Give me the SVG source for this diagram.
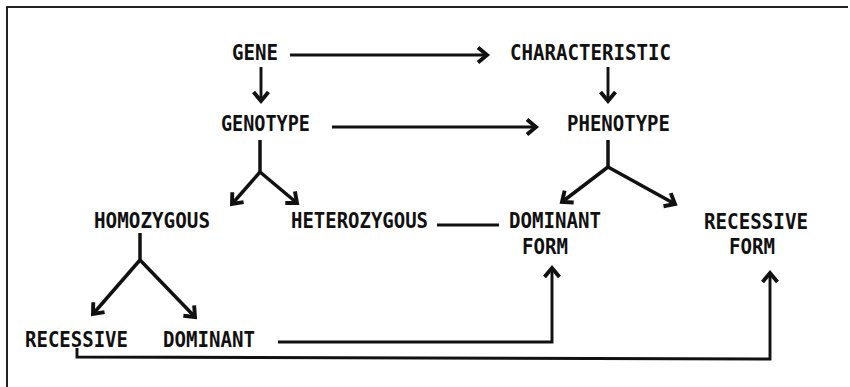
<svg xmlns="http://www.w3.org/2000/svg" width="850" height="387" viewBox="0 0 850 387">
  <defs>
    <style>
      .lbl { font-family: "DejaVu Sans Mono", "Liberation Mono", monospace; font-weight: bold; font-size: 20.5px; fill: #111; }
      .ln { fill: none; stroke: #111; stroke-width: 2.9; stroke-linecap: butt; stroke-linejoin: miter; }
      .br { fill: none; stroke: #111; stroke-width: 3.5; stroke-linejoin: miter; }
      .frame { fill: none; stroke: #222; stroke-width: 2; }
    </style>
    <marker id="chev" markerUnits="userSpaceOnUse" markerWidth="24" markerHeight="24" viewBox="-14 -12 18 24" refX="0" refY="0" orient="auto">
      <path d="M-9,-7.5 L0,0 L-9,7.5" fill="none" stroke="#111" stroke-width="3.9" stroke-linejoin="miter"/>
    </marker>
  </defs>

  <rect width="850" height="387" fill="#fff"/>

  <!-- open frame: top and left edges -->
  <path class="frame" d="M7,387 L7,7 L848,7"/>

  <g id="gene"><text class="lbl" x="232" y="60" textLength="46" lengthAdjust="spacingAndGlyphs">GENE</text></g>
  <g id="characteristic"><text class="lbl" x="510" y="60" textLength="161" lengthAdjust="spacingAndGlyphs">CHARACTERISTIC</text></g>
  <g id="genotype"><text class="lbl" x="221" y="131" textLength="89" lengthAdjust="spacingAndGlyphs">GENOTYPE</text></g>
  <g id="phenotype"><text class="lbl" x="567" y="131" textLength="103" lengthAdjust="spacingAndGlyphs">PHENOTYPE</text></g>
  <g id="homozygous"><text class="lbl" x="94" y="228" textLength="116" lengthAdjust="spacingAndGlyphs">HOMOZYGOUS</text></g>
  <g id="heterozygous"><text class="lbl" x="291" y="228" textLength="137" lengthAdjust="spacingAndGlyphs">HETEROZYGOUS</text></g>
  <g id="dominant-form">
    <text class="lbl" x="509" y="228" textLength="92" lengthAdjust="spacingAndGlyphs">DOMINANT</text>
    <text class="lbl" x="522" y="254" textLength="46" lengthAdjust="spacingAndGlyphs">FORM</text>
  </g>
  <g id="recessive-form">
    <text class="lbl" x="704" y="229" textLength="104" lengthAdjust="spacingAndGlyphs">RECESSIVE</text>
    <text class="lbl" x="729" y="254" textLength="46" lengthAdjust="spacingAndGlyphs">FORM</text>
  </g>
  <g id="recessive"><text class="lbl" x="25" y="347" textLength="103" lengthAdjust="spacingAndGlyphs">RECESSIVE</text></g>
  <g id="dominant"><text class="lbl" x="163" y="347" textLength="92" lengthAdjust="spacingAndGlyphs">DOMINANT</text></g>

  <g id="connectors">
    <!-- horizontal links -->
    <path class="ln" d="M290,55 L487,55" marker-end="url(#chev)"/>
    <path class="ln" d="M332,127 L536,127" marker-end="url(#chev)"/>
    <path class="ln" d="M437,225 L499,225"/>

    <!-- vertical links -->
    <path class="ln" d="M261,67 L261,101" marker-end="url(#chev)"/>
    <path class="ln" d="M608,67 L608,101" marker-end="url(#chev)"/>

    <!-- genotype split -->
    <path class="br" d="M260,140 L260,172"/>
    <path class="br" d="M260,172 L232,204" marker-end="url(#chev)"/>
    <path class="br" d="M260,172 L297,203" marker-end="url(#chev)"/>

    <!-- phenotype split -->
    <path class="br" d="M608,140 L608,167"/>
    <path class="br" d="M608,167 L562,202" marker-end="url(#chev)"/>
    <path class="br" d="M608,167 L675,204" marker-end="url(#chev)"/>

    <!-- homozygous split -->
    <path class="br" d="M140,233 L140,260"/>
    <path class="br" d="M140,260 L93,314" marker-end="url(#chev)"/>
    <path class="br" d="M140,260 L195,317" marker-end="url(#chev)"/>

    <!-- bottom return paths -->
    <path class="ln" d="M278,342 L552,342 L552,268" marker-end="url(#chev)"/>
    <path class="ln" d="M77,348 L77,357 L770,359 L770,273" marker-end="url(#chev)"/>
  </g>
</svg>
